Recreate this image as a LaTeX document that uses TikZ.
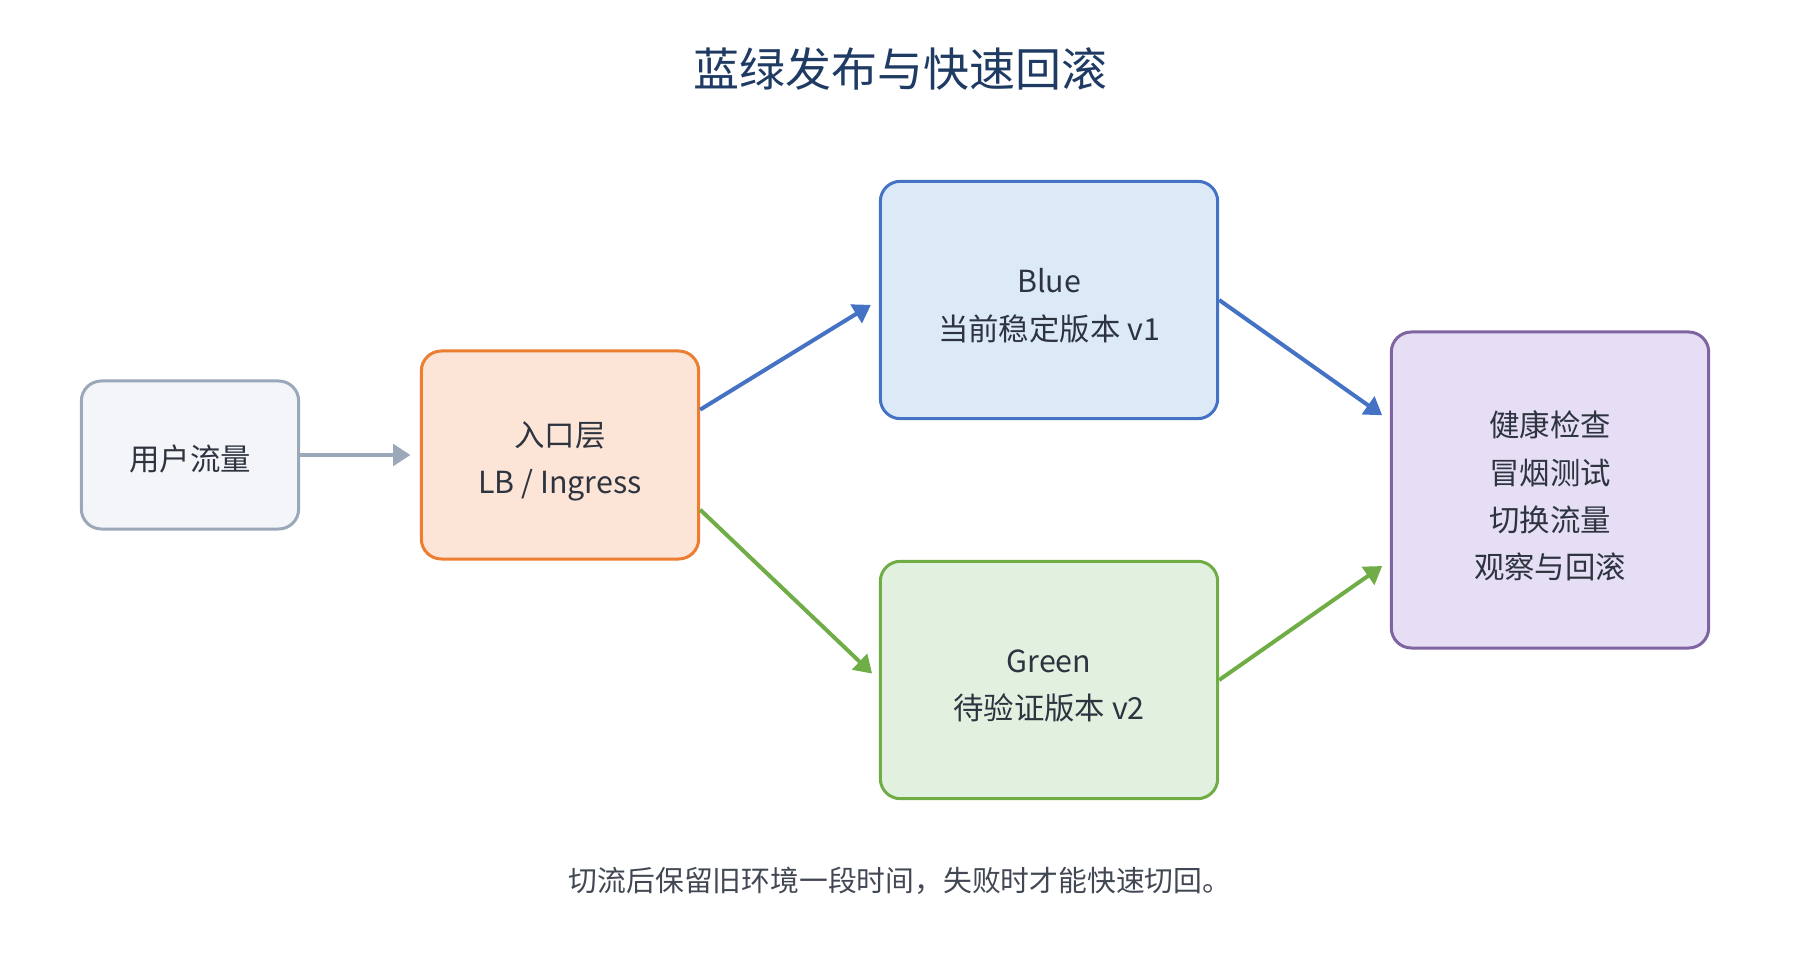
\documentclass[tikz,border=0pt]{standalone}
\usepackage{xcolor}
\usepackage{fontspec}
\setmainfont{Noto Sans CJK SC}
\usepackage{tikz}
\usetikzlibrary{arrows.meta, positioning}
\definecolor{mytitle}{RGB}{31,59,99}
\definecolor{mytext}{RGB}{45,52,64}
\definecolor{usrgray}{RGB}{154,168,186}
\definecolor{hdrgray}{RGB}{243,245,248}
\definecolor{myorange}{RGB}{237,125,49}
\definecolor{hdrorange}{RGB}{252,228,214}
\definecolor{myblue}{RGB}{68,114,196}
\definecolor{hdrblue}{RGB}{220,234,248}
\definecolor{mygreen}{RGB}{112,173,71}
\definecolor{hdrgreen}{RGB}{226,240,224}
\definecolor{mypurple}{RGB}{128,100,162}
\definecolor{hdrpurple}{RGB}{230,222,245}
\tikzset{
  box/.style={rectangle, align=center, rounded corners=15pt,
    line width=2.25pt, text=mytext,
    font=\fontsize{22.8}{35.5}\selectfont},
  userbox/.style={box, draw=usrgray, fill=hdrgray, text height=25pt,
    minimum width=163pt, minimum height=111pt},
  entrybox/.style={box, draw=myorange, fill=hdrorange, text height=64pt,
    minimum width=208pt, minimum height=156pt},
  bluebox/.style={box, draw=myblue, fill=hdrblue, text height=62pt,
    minimum width=253pt, minimum height=178pt},
  greenbox/.style={box, draw=mygreen, fill=hdrgreen, text height=61.5pt,
    minimum width=253pt, minimum height=178pt},
  checkbox/.style={box, draw=mypurple, fill=hdrpurple, text height=135pt,
    minimum width=238pt, minimum height=237pt},
  flow/.style={-{Triangle[length=13pt, width=16pt]}, line width=3pt,
    shorten >=7pt}
}
\begin{document}
\begin{tikzpicture}[x=0.75pt, y=-0.75pt]
  \useasboundingbox (0,0) rectangle (1800,980);

  % Title
  \node[font=\fontsize{34.5}{42}\selectfont, text=mytitle] (title) at (900, 69) {蓝绿发布与快速回滚};

  % Traffic path
  \node[userbox] (user) at (190, 455) {用户流量};
  \node[entrybox] (entry) at (560, 455) {入口层\\LB / Ingress};

  % Two environments
  \node[bluebox] (blue) at (1049, 300) {Blue\\当前稳定版本 v1};
  \node[greenbox] (green) at (1049, 680) {Green\\待验证版本 v2};

  % Checks
  \node[checkbox] (check) at (1550, 490) {健康检查\\冒烟测试\\切换流量\\观察与回滚};

  \draw[flow, color=usrgray] (user.east) -- (entry.west);
  \draw[flow, color=myblue] ([yshift=34pt]entry.east) -- (blue.west);
  \draw[flow, color=mygreen] ([yshift=-41pt]entry.east) -- (green.west);
  \draw[flow, color=myblue] (blue.east) -- ([yshift=52pt]check.west);
  \draw[flow, color=mygreen] (green.east) -- ([yshift=-53pt]check.west);

  % Footer note
  \node[font=\fontsize{21.6}{28}\selectfont, text=mytext!90] (note) at (900, 881) {切流后保留旧环境一段时间，失败时才能快速切回。};
\end{tikzpicture}
\end{document}
